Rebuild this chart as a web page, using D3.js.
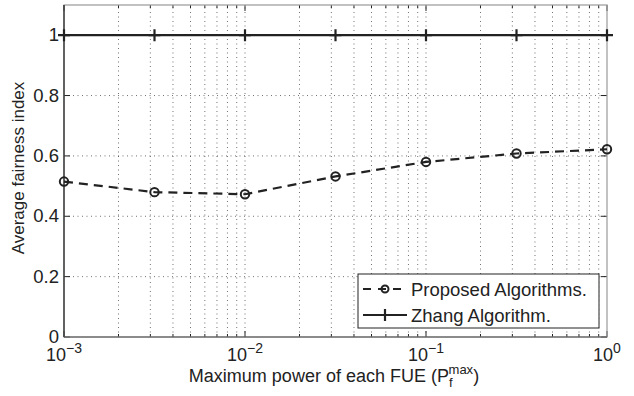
<!DOCTYPE html>
<html lang="en">
<head>
<meta charset="UTF-8">
<title>Fairness</title>
<style>
  body { margin: 0; background: #fff; }
  svg { font-family: "Liberation Sans", Arial, sans-serif; }
</style>
</head>
<body>
<div id="graphic"></div>
<script src="https://cdn.jsdelivr.net/npm/d3@7"></script>
<script>
var width = 634, height = 396;
var margin = {left: 64, right: 27, top: 5, bottom: 59};

// data
var powers = [0.001, 0.0031623, 0.01, 0.031623, 0.1, 0.31623, 1];
var proposed = [0.515, 0.48, 0.473, 0.532, 0.58, 0.608, 0.622];
var zhang = [1, 1, 1, 1, 1, 1, 1];
var yTicks = [0, 0.2, 0.4, 0.6, 0.8, 1];
var xMajor = [-3, -2, -1, 0];

var svg = d3.select('#graphic').append('svg')
    .attr('width', width).attr('height', height);

var x = d3.scaleLog().domain([0.001, 1]).range([margin.left, width - margin.right]);
var y = d3.scaleLinear().domain([0, 1.1]).range([height - margin.bottom, margin.top]);

var x0 = x.range()[0], x1 = x.range()[1], y0 = y.range()[0], y1 = y.range()[1];

// minor + major x positions
var xAll = [];
for (var e = -3; e < 0; e++) {
    for (var m = 1; m < 10; m++) xAll.push(m * Math.pow(10, e));
}
xAll.push(1);

var grid = svg.append('g').attr('stroke', '#333').attr('stroke-width', 0.7)
    .attr('stroke-dasharray', '1,3.5');
grid.selectAll('.vg').data(xAll.filter(function(d){ return d > 0.001 && d < 1; }))
    .join('line')
    .attr('x1', function(d){ return x(d); }).attr('x2', function(d){ return x(d); })
    .attr('y1', y0).attr('y2', y1);
grid.selectAll('.hg').data(yTicks.slice(1))
    .join('line')
    .attr('x1', x0).attr('x2', x1)
    .attr('y1', function(d){ return y(d); }).attr('y2', function(d){ return y(d); });

// tick marks inside box
var ticks = svg.append('g').attr('stroke', '#222').attr('stroke-width', 1);
xAll.forEach(function(d) {
    var major = Math.abs(Math.log10(d) - Math.round(Math.log10(d))) < 1e-9;
    var len = major ? 6 : 3;
    ticks.append('line').attr('x1', x(d)).attr('x2', x(d)).attr('y1', y0).attr('y2', y0 - len);
    ticks.append('line').attr('x1', x(d)).attr('x2', x(d)).attr('y1', y1).attr('y2', y1 + len);
});
yTicks.forEach(function(d) {
    ticks.append('line').attr('x1', x0).attr('x2', x0 + 6).attr('y1', y(d)).attr('y2', y(d));
    ticks.append('line').attr('x1', x1).attr('x2', x1 - 6).attr('y1', y(d)).attr('y2', y(d));
});

// box
svg.append('rect').attr('x', x0).attr('y', y1).attr('width', x1 - x0).attr('height', y0 - y1)
    .attr('fill', 'none').attr('stroke', '#999').attr('stroke-width', 1.2);
svg.append('line').attr('x1', x0).attr('x2', x0).attr('y1', y1).attr('y2', y0)
    .attr('stroke', '#222').attr('stroke-width', 1.2);
svg.append('line').attr('x1', x0).attr('x2', x1).attr('y1', y0).attr('y2', y0)
    .attr('stroke', '#555').attr('stroke-width', 1.2);

// y tick labels
svg.selectAll('.yl').data(yTicks).join('text')
    .attr('x', x0 - 5).attr('y', function(d){ return y(d) + 6; })
    .attr('text-anchor', 'end').attr('font-size', 18.5).attr('fill', '#222')
    .text(function(d){ return d === 0 ? '0' : d === 1 ? '1' : d3.format('.1f')(d); });

// x tick labels 10^e
xMajor.forEach(function(e) {
    var t = svg.append('text').attr('x', x(Math.pow(10, e))).attr('y', y0 + 23.5)
        .attr('text-anchor', 'middle').attr('font-size', 18).attr('fill', '#222');
    t.append('tspan').text('10');
    t.append('tspan').attr('dy', -8).attr('font-size', 14).text(String(e).replace('-', '\u2212'));
});

// axis labels
var xl = svg.append('text').attr('x', 334).attr('y', 382)
    .attr('text-anchor', 'middle').attr('font-size', 18).attr('fill', '#222');
xl.append('tspan').text('Maximum power of each FUE (P');
xl.append('tspan').attr('font-size', 13).attr('dy', 5).text('f');
xl.append('tspan').attr('font-size', 13).attr('dy', -13).attr('dx', -4).text('max');
xl.append('tspan').attr('dy', 8).text(')');

svg.append('text').attr('transform', 'translate(24,168) rotate(-90)')
    .attr('text-anchor', 'middle').attr('font-size', 17).attr('fill', '#222')
    .text('Average fairness index');

// Zhang line
var line = d3.line().x(function(d){ return x(d[0]); }).y(function(d){ return y(d[1]); });
var zData = d3.zip(powers, zhang);
svg.append('path').datum(zData).attr('d', line)
    .attr('fill', 'none').attr('stroke', '#222').attr('stroke-width', 2.2);
svg.selectAll('.zm').data(zData).join('path')
    .attr('d', function(d){ var cx = x(d[0]), cy = y(d[1]);
        return 'M' + (cx - 6) + ',' + cy + 'H' + (cx + 6) + 'M' + cx + ',' + (cy - 6) + 'V' + (cy + 6); })
    .attr('stroke', '#222').attr('stroke-width', 2.2);

// Proposed line
var pData = d3.zip(powers, proposed);
svg.append('path').datum(pData).attr('d', line)
    .attr('fill', 'none').attr('stroke', '#222').attr('stroke-width', 2.2)
    .attr('stroke-dasharray', '9,6');
svg.selectAll('.pm').data(pData).join('circle')
    .attr('cx', function(d){ return x(d[0]); }).attr('cy', function(d){ return y(d[1]); })
    .attr('r', 4.2).attr('fill', 'none').attr('stroke', '#222').attr('stroke-width', 2);

// legend
var lg = svg.append('g').attr('transform', 'translate(358,274)');
lg.append('rect').attr('width', 241).attr('height', 54).attr('fill', '#fff')
    .attr('stroke', '#222').attr('stroke-width', 1);
lg.append('path').attr('d', 'M5,15H49').attr('stroke', '#222').attr('stroke-width', 2.2)
    .attr('stroke-dasharray', '8,7');
lg.append('circle').attr('cx', 27).attr('cy', 15).attr('r', 3.5)
    .attr('fill', 'none').attr('stroke', '#222').attr('stroke-width', 2);
lg.append('text').attr('x', 53).attr('y', 21.5).attr('font-size', 18.5).attr('fill', '#222')
    .text('Proposed Algorithms.');
lg.append('path').attr('d', 'M5,41H49M27,35V47').attr('stroke', '#222').attr('stroke-width', 2.2);
lg.append('text').attr('x', 53).attr('y', 47.5).attr('font-size', 18.5).attr('fill', '#222')
    .text('Zhang Algorithm.');
</script>
</body>
</html>
